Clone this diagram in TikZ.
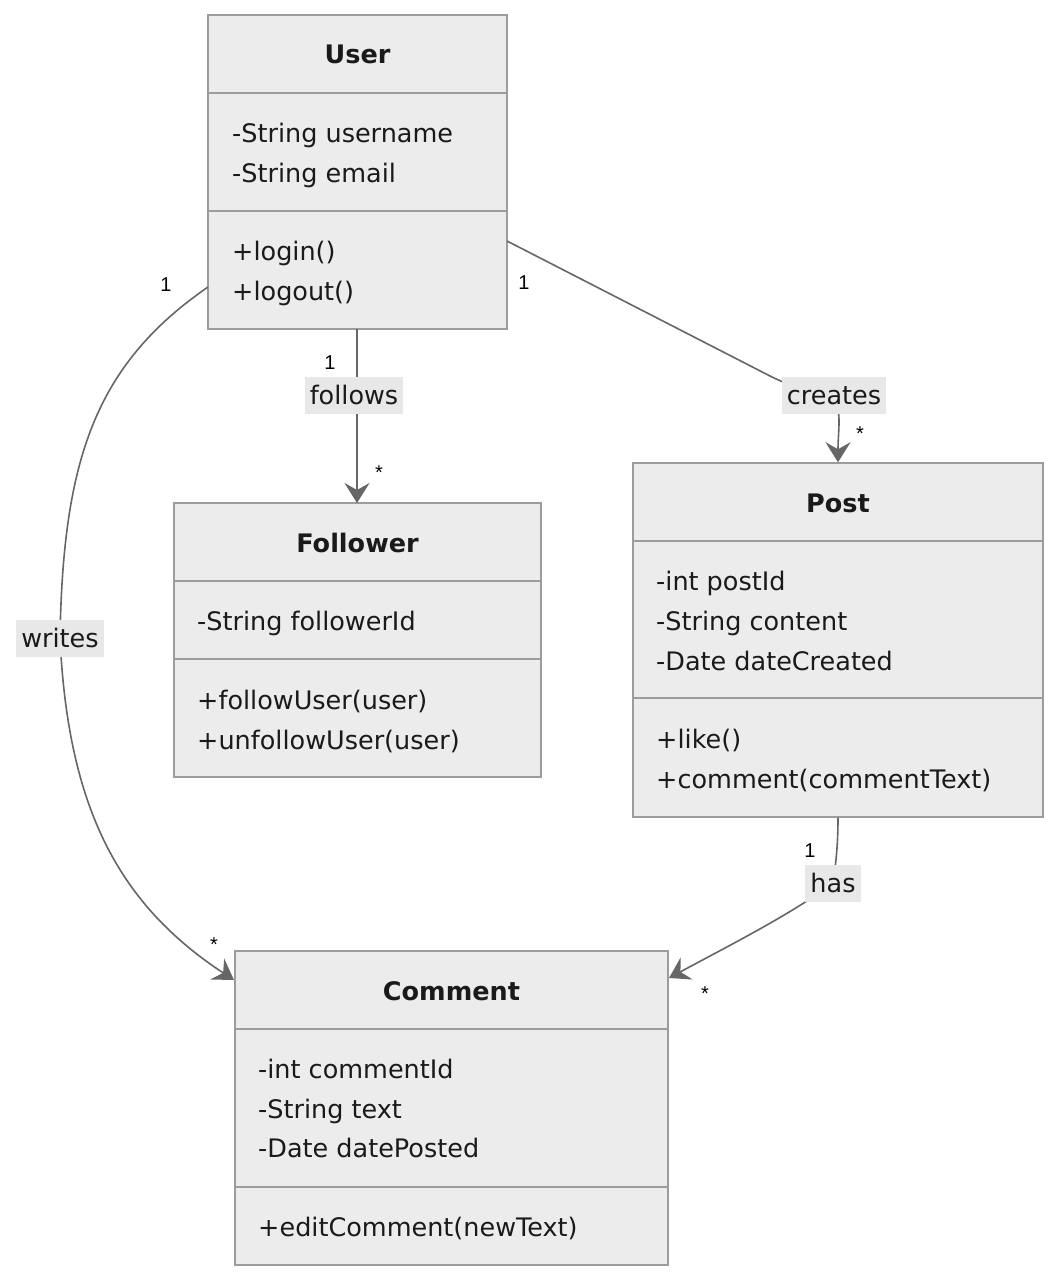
\documentclass[tikz,border=0pt]{standalone}
\usepackage{fontspec}
\setmainfont{DejaVu Sans}
\newfontfamily\multfont{Liberation Sans}
\usetikzlibrary{arrows.meta,calc}
\definecolor{boxfill}{HTML}{ECECEC}
\definecolor{boxline}{HTML}{9C9C9C}
\definecolor{edgecol}{HTML}{666666}
\definecolor{lblfill}{HTML}{E8E8E8}
\definecolor{txt}{HTML}{1A1A1A}
\tikzset{
  classbox/.style={draw=boxline, fill=boxfill, line width=1.5pt, inner sep=0pt, rectangle},
  divider/.style={draw=boxline, line width=1.5pt},
  title/.style={font=\fontsize{25.5}{30}\selectfont\bfseries, text=txt, inner sep=0pt, text height=22.5pt, text depth=3.5pt},
  member/.style={font=\fontsize{25.5}{30}\selectfont, text=txt, inner sep=0pt, anchor=west, text height=22.5pt, text depth=3.5pt},
  edge/.style={draw=edgecol, line width=1.6pt},
  arr/.style={-{Stealth[length=20pt,width=25pt,inset=7pt]}},
  elabel/.style={fill=lblfill, font=\fontsize{25.5}{30}\selectfont, text=txt, inner xsep=5pt, inner ysep=0pt, minimum height=37pt, text height=22.5pt, text depth=3.5pt},
  mult/.style={font=\multfont\fontsize{20}{22}\selectfont, text=black, inner sep=0pt}
}
\begin{document}
\begin{tikzpicture}[x=1pt,y=-1pt]
\useasboundingbox (0,0) rectangle (1058,1280);
% ---------- class boxes ----------
\node[classbox, minimum width=299pt, minimum height=314pt] (user) at (357.5,172) {};
\node[classbox, minimum width=367pt, minimum height=274pt] (follower) at (357.5,640) {};
\node[classbox, minimum width=410pt, minimum height=354pt] (post) at (838,640) {};
\node[classbox, minimum width=433pt, minimum height=314pt] (comment) at (451.5,1108) {};
% dividers
\draw[divider] (208,93) -- (507,93);
\draw[divider] (208,211) -- (507,211);
\draw[divider] (174,581) -- (541,581);
\draw[divider] (174,659) -- (541,659);
\draw[divider] (633,541) -- (1043,541);
\draw[divider] (633,698) -- (1043,698);
\draw[divider] (235,1029) -- (668,1029);
\draw[divider] (235,1187) -- (668,1187);
% ---------- texts ----------
\node[title] (userT) at (357.5,54) {User};
\node[member] (userA1) at (232,133) {-String username};
\node[member] (userA2) at (232,173) {-String email};
\node[member] (userM1) at (232,251) {+login()};
\node[member] (userM2) at (232,291) {+logout()};

\node[title] (follT) at (357.5,543) {Follower};
\node[member] (follA1) at (197,621) {-String followerId};
\node[member] (follM1) at (197,700) {+followUser(user)};
\node[member] (follM2) at (197,740) {+unfollowUser(user)};

\node[title] (postT) at (838,503) {Post};
\node[member] (postA1) at (656,581) {-int postId};
\node[member] (postA2) at (656,621) {-String content};
\node[member] (postA3) at (656,661) {-Date dateCreated};
\node[member] (postM1) at (656,739) {+like()};
\node[member] (postM2) at (656,779) {+comment(commentText)};

\node[title] (comT) at (451.5,991) {Comment};
\node[member] (comA1) at (258,1069) {-int commentId};
\node[member] (comA2) at (258,1109) {-String text};
\node[member] (comA3) at (258,1148) {-Date datePosted};
\node[member] (comM1) at (258,1227) {+editComment(newText)};
% ---------- connector anchor points ----------
\coordinate (uE) at (507,241);
\coordinate (uW) at (208,287);
\coordinate (uS) at (357,329);
\coordinate (fN) at (357,503);
\coordinate (cW) at (234,980);
\coordinate (cE) at (669,978);
% label positions
\coordinate (fLp) at (357,395);
\coordinate (crLp) at (834,395);
\coordinate (wLp) at (60,638);
\coordinate (hLp) at (833,883);
% ---------- connectors ----------
\draw[edge,arr] (uS) -- (fLp) -- (fN);
\draw[edge,arr] (uE) -- (770,376) .. controls (800,391) and (826,396) .. (crLp)
   .. controls (842,414) and (838,430) .. (post.north);
\draw[edge,arr] (uW) .. controls (95,365) and (63,460) .. (wLp)
   .. controls (68,810) and (120,905) .. (cW);
\draw[edge,arr] (post.south) .. controls (838,845) and (836,862) .. (hLp)
   .. controls (790,915) and (730,945) .. (cE);
% ---------- edge labels ----------
\node[elabel] (fL) at (354,395) {follows};
\node[elabel] (crL) at (crLp) {creates};
\node[elabel] (wL) at (wLp) {writes};
\node[elabel] (hL) at (hLp) {has};
% ---------- multiplicities ----------
\node[mult] (m1) at (330,363) {1};
\node[mult] (m2) at (379,473) {*};
\node[mult] (m3) at (524,283) {1};
\node[mult] (m4) at (860,434) {*};
\node[mult] (m5) at (166,285) {1};
\node[mult] (m6) at (214,945) {*};
\node[mult] (m7) at (810,851) {1};
\node[mult] (m8) at (705,994) {*};
\end{tikzpicture}
\end{document}
